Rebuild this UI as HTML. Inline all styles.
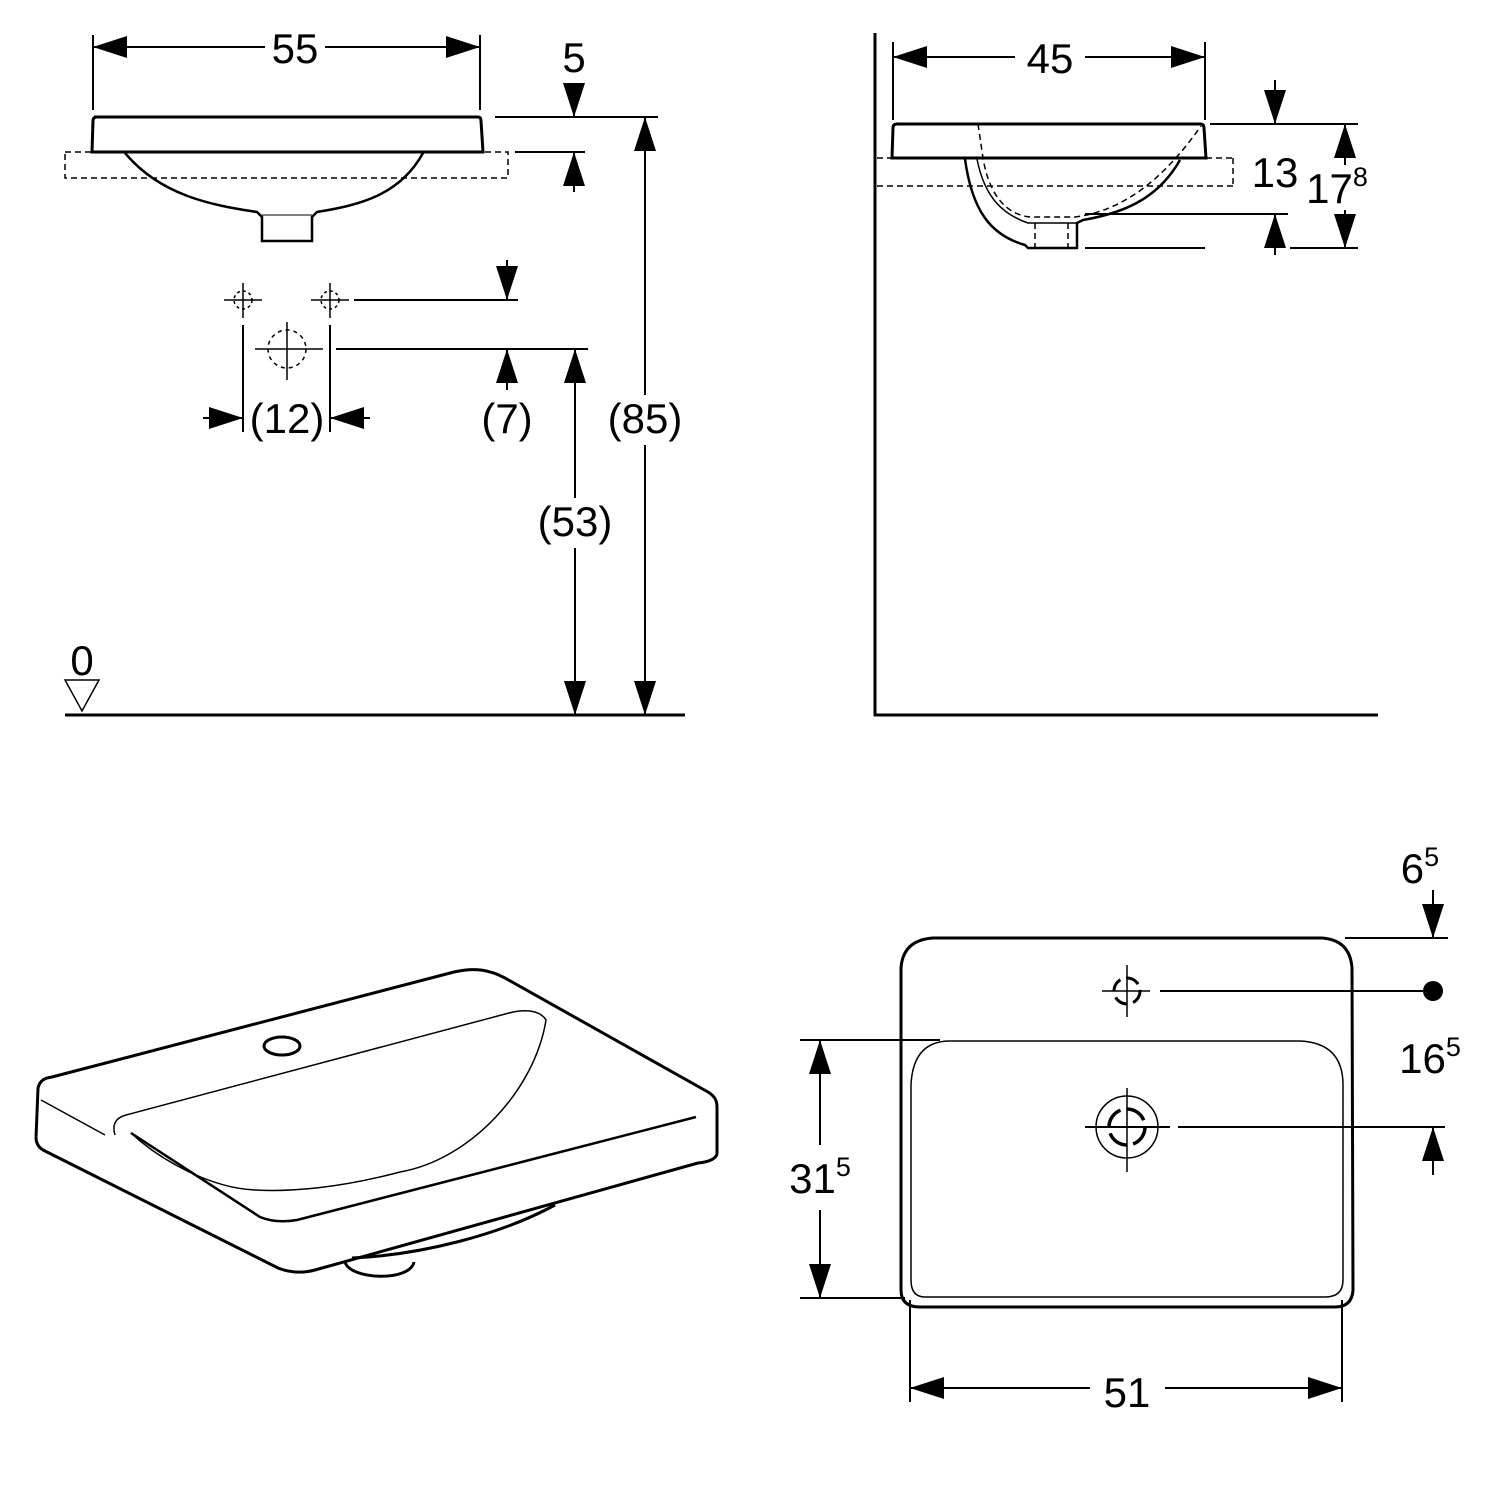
<!DOCTYPE html>
<html><head><style>html,body{margin:0;padding:0;background:#fff}svg{display:block}text{font-family:"Liberation Sans",sans-serif;fill:#000}</style></head>
<body>
<svg width="1500" height="1500" viewBox="0 0 1500 1500" xmlns="http://www.w3.org/2000/svg">
<defs>
<marker id="a" viewBox="0 0 10 10" refX="10" refY="5" markerWidth="34" markerHeight="22" markerUnits="userSpaceOnUse" orient="auto" preserveAspectRatio="none"><path d="M0,0L10,5L0,10z"/></marker>
</defs>
<g fill="none" stroke="#000" stroke-width="2">
<!-- TOP LEFT -->
<line x1="93" y1="35" x2="93" y2="110"/><line x1="480" y1="35" x2="480" y2="110"/>
<line x1="265" y1="47" x2="93" y2="47" marker-end="url(#a)"/><line x1="325" y1="47" x2="480" y2="47" marker-end="url(#a)"/>
<path d="M94,117 L478,117 Q481,117 481,121 L483,152 L92,152 L93,121 Q93,117 97,117Z" stroke-width="3"/>
<rect x="65" y="152" width="443" height="26" stroke-dasharray="6,4" stroke-width="1.5"/>
<path d="M125,153 C160,195 210,205 257,212 L262,217 L262,241 L312,241 L312,217 L317,212 C360,205 400,195 423,153" stroke-width="2.5"/>
<line x1="262" y1="215" x2="312" y2="215" stroke-width="1"/>
<line x1="495" y1="117" x2="658" y2="117"/><line x1="515" y1="152" x2="585" y2="152"/>
<line x1="574" y1="90" x2="574" y2="117" marker-end="url(#a)"/>
<line x1="574" y1="192" x2="574" y2="152" marker-end="url(#a)"/>
<line x1="645" y1="395" x2="645" y2="117" marker-end="url(#a)"/><line x1="645" y1="445" x2="645" y2="715" marker-end="url(#a)"/>
<g stroke-width="1.5">
<line x1="224" y1="300" x2="262" y2="300"/><line x1="243" y1="283" x2="243" y2="318"/><circle cx="243" cy="300" r="9" stroke-dasharray="3,3"/>
<line x1="311" y1="300" x2="349" y2="300"/><line x1="330" y1="283" x2="330" y2="318"/><circle cx="330" cy="300" r="9" stroke-dasharray="3,3"/>
<line x1="255" y1="349" x2="323" y2="349"/><line x1="287" y1="322" x2="287" y2="380"/><circle cx="287" cy="349" r="19" stroke-dasharray="4,4"/>
</g>
<line x1="354" y1="300" x2="518" y2="300"/><line x1="507" y1="260" x2="507" y2="300" marker-end="url(#a)"/>
<line x1="336" y1="349" x2="588" y2="349"/><line x1="507" y1="390" x2="507" y2="349" marker-end="url(#a)"/>
<line x1="243" y1="325" x2="243" y2="432"/><line x1="330" y1="325" x2="330" y2="432"/>
<line x1="203" y1="418" x2="243" y2="418" marker-end="url(#a)"/><line x1="370" y1="418" x2="330" y2="418" marker-end="url(#a)"/>
<line x1="575" y1="498" x2="575" y2="349" marker-end="url(#a)"/><line x1="575" y1="548" x2="575" y2="715" marker-end="url(#a)"/>
<line x1="65" y1="715" x2="685" y2="715" stroke-width="3"/>
<path d="M65,680 L99,680 L82,711Z" stroke-width="1.5"/>
<!-- TOP RIGHT -->
<line x1="875" y1="33" x2="875" y2="716" stroke-width="3"/><line x1="874" y1="715" x2="1378" y2="715" stroke-width="3"/>
<line x1="893" y1="42" x2="893" y2="120"/><line x1="1205" y1="42" x2="1205" y2="120"/>
<line x1="1015" y1="57" x2="893" y2="57" marker-end="url(#a)"/><line x1="1085" y1="57" x2="1205" y2="57" marker-end="url(#a)"/>
<path d="M896,124 L1200,124 Q1204,124 1204,128 L1206,158 L892,158 L893,128 Q893,124 897,124Z" stroke-width="3"/>
<g stroke-dasharray="6,4" stroke-width="1.5"><line x1="877" y1="158" x2="892" y2="158"/><line x1="1206" y1="158" x2="1233" y2="158"/><line x1="877" y1="186" x2="1233" y2="186"/><line x1="1233" y1="158" x2="1233" y2="186"/>
<path d="M978,124 L983,158 C990,200 1010,215 1030,217 L1075,217 C1130,210 1170,170 1201,126"/><line x1="1035" y1="223" x2="1035" y2="247"/><line x1="1068" y1="223" x2="1068" y2="247"/></g>
<path d="M965,159 C972,210 990,235 1025,245 L1028,248 L1077,248 L1077,223 L1083,220 C1130,212 1160,195 1180,160" stroke-width="2.5"/>
<path d="M977,159 C985,200 1005,215 1028,223 L1077,223" stroke-width="1.5"/>
<line x1="1210" y1="124" x2="1358" y2="124"/><line x1="1085" y1="214" x2="1288" y2="214"/><line x1="1085" y1="248" x2="1205" y2="248"/><line x1="1290" y1="248" x2="1358" y2="248"/>
<line x1="1275" y1="80" x2="1275" y2="124" marker-end="url(#a)"/><line x1="1275" y1="255" x2="1275" y2="214" marker-end="url(#a)"/>
<line x1="1345" y1="165" x2="1345" y2="124" marker-end="url(#a)"/><line x1="1345" y1="210" x2="1345" y2="248" marker-end="url(#a)"/>
<!-- BOTTOM LEFT ISO -->
<g stroke-width="3" stroke-linejoin="round">
<path d="M38,1088 C40,1080 45,1078 52,1077 L454,972 C475,967 490,970 505,978 L708,1092 C716,1097 717,1102 717,1107 L717,1153 C717,1158 710,1162 698,1163 L315,1270 C300,1274 288,1272 278,1268 L43,1150 C38,1147 36,1142 36,1138 Z"/>
<path d="M131,1133 L260,1217 C272,1222 285,1222 297,1220 L696,1117" stroke-width="2.5"/>
<ellipse cx="282" cy="1046" rx="18" ry="9"/>
<path d="M555,1205 C500,1235 420,1255 352,1258"/>
<path d="M345,1262 C350,1280 410,1282 414,1262"/>
</g>
<path d="M41,1100 L105,1135" stroke-width="1.5"/>
<path d="M115,1135 C112,1125 115,1118 126,1115 L509,1013 C525,1009 540,1010 546,1020 C535,1090 470,1160 400,1172 C340,1188 290,1192 255,1190 C210,1188 160,1160 131,1133" stroke-width="1.5"/>
<!-- BOTTOM RIGHT PLAN -->
<path d="M933,938 L1322,938 Q1350,940 1352,968 L1353,1290 Q1352,1307 1335,1307 L920,1307 Q901,1307 901,1290 L901,968 Q903,940 933,938Z" stroke-width="3"/>
<path d="M950,1041 L1300,1041 Q1343,1043 1343,1085 L1343,1280 Q1343,1297 1325,1297 L925,1297 Q911,1297 911,1280 L911,1085 Q913,1041 950,1041Z" stroke-width="1.5"/>
<line x1="1102" y1="991" x2="1150" y2="991" stroke-width="1.5"/><line x1="1127" y1="965" x2="1127" y2="1017" stroke-width="1.5"/>
<circle cx="1127" cy="991" r="13" stroke-width="3" stroke-dasharray="14,6"/>
<line x1="1085" y1="1127" x2="1170" y2="1127" stroke-width="2"/><line x1="1127" y1="1088" x2="1127" y2="1172" stroke-width="1.5"/>
<circle cx="1127" cy="1127" r="31" stroke-width="1.5"/><circle cx="1127" cy="1127" r="18" stroke-width="3.5" stroke-dasharray="22,6"/>
<line x1="1160" y1="991" x2="1433" y2="991"/>
<line x1="1178" y1="1127" x2="1445" y2="1127"/><line x1="1433" y1="1175" x2="1433" y2="1127" marker-end="url(#a)"/>
<line x1="1345" y1="938" x2="1448" y2="938"/><line x1="1433" y1="890" x2="1433" y2="938" marker-end="url(#a)"/>
<line x1="800" y1="1040" x2="940" y2="1040"/><line x1="800" y1="1298" x2="905" y2="1298"/>
<line x1="820" y1="1145" x2="820" y2="1040" marker-end="url(#a)"/><line x1="820" y1="1210" x2="820" y2="1298" marker-end="url(#a)"/>
<line x1="910" y1="1300" x2="910" y2="1402"/><line x1="1342" y1="1300" x2="1342" y2="1402"/>
<line x1="1090" y1="1388" x2="910" y2="1388" marker-end="url(#a)"/><line x1="1165" y1="1388" x2="1342" y2="1388" marker-end="url(#a)"/>
</g>
<circle cx="1433" cy="991" r="10" fill="#000"/>
<g font-size="42" text-anchor="middle">
<text x="295" y="63">55</text><text x="574" y="72">5</text>
<text x="645" y="433">(85)</text><text x="287" y="433">(12)</text><text x="507" y="433">(7)</text><text x="575" y="536">(53)</text>
<text x="82" y="675">0</text>
<text x="1050" y="73">45</text><text x="1275" y="187">13</text>
<text x="1337" y="203">17<tspan font-size="27" dy="-17">8</tspan></text>
<text x="1420" y="883">6<tspan font-size="27" dy="-17">5</tspan></text>
<text x="1430" y="1073">16<tspan font-size="27" dy="-17">5</tspan></text>
<text x="820" y="1193">31<tspan font-size="27" dy="-17">5</tspan></text>
<text x="1127" y="1407">51</text>
</g>
</svg>
</body></html>
